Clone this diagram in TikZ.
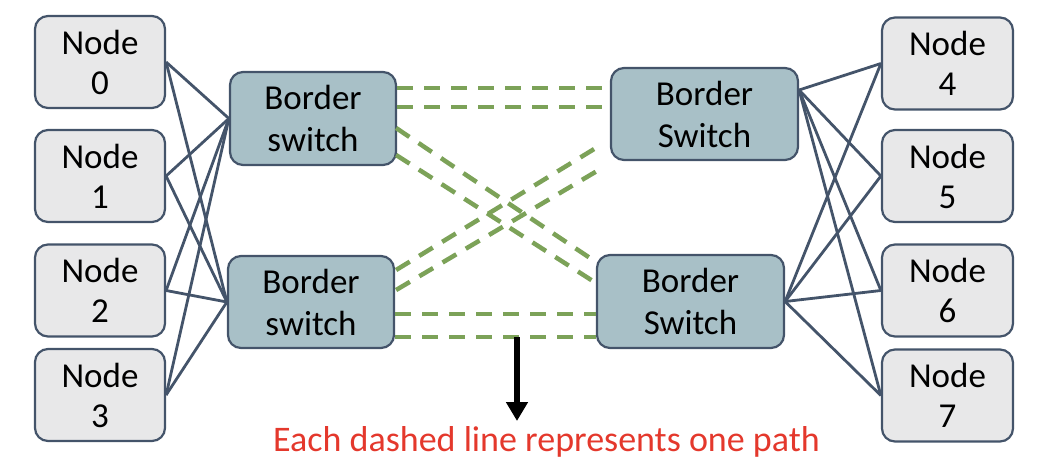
\documentclass[tikz,border=0pt]{standalone}
\usepackage{fontspec}
\setmainfont{Carlito}
\usetikzlibrary{calc,arrows.meta}
\definecolor{boxline}{RGB}{68,84,106}
\definecolor{nodefill}{RGB}{232,232,233}
\definecolor{swfill}{RGB}{168,192,199}
\definecolor{pathgreen}{RGB}{124,162,88}
\definecolor{notered}{RGB}{228,56,44}
\tikzset{
  hostbox/.style={draw=boxline, line width=2.2pt, fill=nodefill, rounded corners=13pt,
    minimum width=130pt, minimum height=92pt, align=center, inner sep=0pt,
    font=\fontsize{35}{40}\selectfont},
  swbox/.style={draw=boxline, line width=2.2pt, fill=swfill, rounded corners=13pt,
    minimum height=92pt, align=center, inner sep=0pt,
    font=\fontsize{35}{42}\selectfont},
  link/.style={draw=boxline, line width=2.8pt},
  pathline/.style={draw=pathgreen, line width=4.5pt, dash pattern=on 16pt off 11pt},
  note/.style={text=notered, font=\fontsize{36}{40}\selectfont, inner sep=0pt, anchor=base}
}
\begin{document}
\begin{tikzpicture}[x=1pt,y=-1pt]
\useasboundingbox (0,0) rectangle (1050,472);
% host nodes
\node[hostbox] (n0) at (100,62) {Node\\0};
\node[hostbox] (n1) at (100,176) {Node\\1};
\node[hostbox] (n2) at (100,290.5) {Node\\2};
\node[hostbox] (n3) at (100,395) {Node\\3};
\node[hostbox, minimum width=131pt] (n4) at (947.5,63.5) {Node\\4};
\node[hostbox, minimum width=131pt] (n5) at (947.5,176) {Node\\5};
\node[hostbox, minimum width=131pt] (n6) at (947.5,290.5) {Node\\6};
\node[hostbox, minimum width=131pt] (n7) at (947.5,395.5) {Node\\7};
% switches
\node[swbox, minimum width=166pt, minimum height=93pt] (tl) at (313,118.5) {Border\\switch};
\node[swbox, minimum width=166pt] (bl) at (311,302) {Border\\switch};
\node[swbox, minimum width=187pt] (tr) at (704.5,114) {Border\\Switch};
\node[swbox, minimum width=187pt, minimum height=93pt] (br) at (690.5,301.5) {Border\\Switch};
% left links
\foreach \n in {n0,n1,n2,n3}{
  \draw[link] (\n.east) -- (tl.west);
  \draw[link] (\n.east) -- (bl.west);
}
% right links
\coordinate (trp) at ($(tr.east)+(0,-24)$);
\foreach \n in {n4,n5,n6,n7}{
  \draw[link] (trp) -- (\n.west);
  \draw[link] (br.east) -- (\n.west);
}
% dashed paths
\coordinate (a1) at ($(tl.east)+(0,-30.5)$);
\coordinate (a2) at ($(tl.east)+(0,-11.5)$);
\draw[pathline] (a1) -- (a1 -| tr.west);
\draw[pathline] (a2) -- (a2 -| tr.west);
\draw[pathline] ($(tl.east)+(-1,9.5)$) -- ($(br.west)+(0,-39.5)$);
\draw[pathline] ($(tl.east)+(-1,36.5)$) -- ($(br.west)+(0,-18.5)$);
\draw[pathline] ($(bl.east)+(1,-32)$) -- ($(tr.south west)+(-11,-15)$);
\draw[pathline] ($(bl.east)+(1,-12)$) -- ($(tr.south west)+(-8,7)$);
\coordinate (b1) at ($(bl.east)+(0,12)$);
\coordinate (b2) at ($(bl.east)+(0,35)$);
\draw[pathline] (b1) -- (b1 -| br.west);
\draw[pathline] (b2) -- (b2 -| br.west);
% note
\coordinate (arrS) at (517,337);
\coordinate (arrE) at (517,421);
\draw[line width=6.5pt, -{Triangle[width=21pt,length=19pt]}] (arrS) -- (arrE);
\node[note] (txt) at (546.5,451) {Each dashed line represents one path};
\end{tikzpicture}
\end{document}
